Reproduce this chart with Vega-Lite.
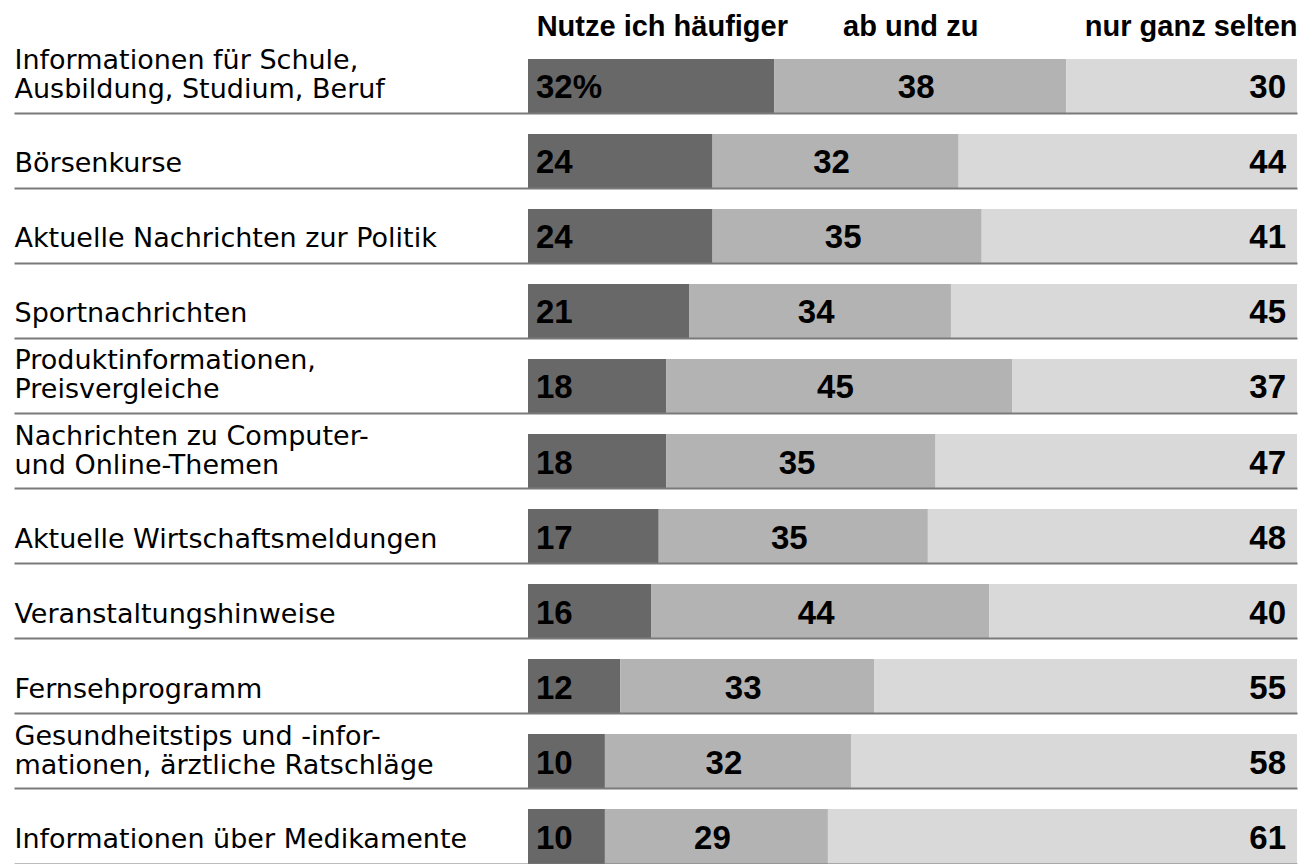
{
  "$schema": "https://vega.github.io/schema/vega-lite/v6.json",
  "width": 769,
  "height": 805,
  "autosize": {"type": "none"},
  "padding": {"left": 528, "top": 59, "right": 10, "bottom": 0},
  "background": "white",
  "config": {"view": {"stroke": null}},
  "data": {
    "values": [
      {"row": 1, "cat": "Informationen für Schule,|Ausbildung, Studium, Beruf", "resp": "Nutze ich häufiger", "k": 1, "value": 32},
      {"row": 1, "cat": "Informationen für Schule,|Ausbildung, Studium, Beruf", "resp": "ab und zu", "k": 2, "value": 38},
      {"row": 1, "cat": "Informationen für Schule,|Ausbildung, Studium, Beruf", "resp": "nur ganz selten", "k": 3, "value": 30},
      {"row": 2, "cat": "Börsenkurse", "resp": "Nutze ich häufiger", "k": 1, "value": 24},
      {"row": 2, "cat": "Börsenkurse", "resp": "ab und zu", "k": 2, "value": 32},
      {"row": 2, "cat": "Börsenkurse", "resp": "nur ganz selten", "k": 3, "value": 44},
      {"row": 3, "cat": "Aktuelle Nachrichten zur Politik", "resp": "Nutze ich häufiger", "k": 1, "value": 24},
      {"row": 3, "cat": "Aktuelle Nachrichten zur Politik", "resp": "ab und zu", "k": 2, "value": 35},
      {"row": 3, "cat": "Aktuelle Nachrichten zur Politik", "resp": "nur ganz selten", "k": 3, "value": 41},
      {"row": 4, "cat": "Sportnachrichten", "resp": "Nutze ich häufiger", "k": 1, "value": 21},
      {"row": 4, "cat": "Sportnachrichten", "resp": "ab und zu", "k": 2, "value": 34},
      {"row": 4, "cat": "Sportnachrichten", "resp": "nur ganz selten", "k": 3, "value": 45},
      {"row": 5, "cat": "Produktinformationen,|Preisvergleiche", "resp": "Nutze ich häufiger", "k": 1, "value": 18},
      {"row": 5, "cat": "Produktinformationen,|Preisvergleiche", "resp": "ab und zu", "k": 2, "value": 45},
      {"row": 5, "cat": "Produktinformationen,|Preisvergleiche", "resp": "nur ganz selten", "k": 3, "value": 37},
      {"row": 6, "cat": "Nachrichten zu Computer-|und Online-Themen", "resp": "Nutze ich häufiger", "k": 1, "value": 18},
      {"row": 6, "cat": "Nachrichten zu Computer-|und Online-Themen", "resp": "ab und zu", "k": 2, "value": 35},
      {"row": 6, "cat": "Nachrichten zu Computer-|und Online-Themen", "resp": "nur ganz selten", "k": 3, "value": 47},
      {"row": 7, "cat": "Aktuelle Wirtschaftsmeldungen", "resp": "Nutze ich häufiger", "k": 1, "value": 17},
      {"row": 7, "cat": "Aktuelle Wirtschaftsmeldungen", "resp": "ab und zu", "k": 2, "value": 35},
      {"row": 7, "cat": "Aktuelle Wirtschaftsmeldungen", "resp": "nur ganz selten", "k": 3, "value": 48},
      {"row": 8, "cat": "Veranstaltungshinweise", "resp": "Nutze ich häufiger", "k": 1, "value": 16},
      {"row": 8, "cat": "Veranstaltungshinweise", "resp": "ab und zu", "k": 2, "value": 44},
      {"row": 8, "cat": "Veranstaltungshinweise", "resp": "nur ganz selten", "k": 3, "value": 40},
      {"row": 9, "cat": "Fernsehprogramm", "resp": "Nutze ich häufiger", "k": 1, "value": 12},
      {"row": 9, "cat": "Fernsehprogramm", "resp": "ab und zu", "k": 2, "value": 33},
      {"row": 9, "cat": "Fernsehprogramm", "resp": "nur ganz selten", "k": 3, "value": 55},
      {"row": 10, "cat": "Gesundheitstips und -infor-|mationen, ärztliche Ratschläge", "resp": "Nutze ich häufiger", "k": 1, "value": 10},
      {"row": 10, "cat": "Gesundheitstips und -infor-|mationen, ärztliche Ratschläge", "resp": "ab und zu", "k": 2, "value": 32},
      {"row": 10, "cat": "Gesundheitstips und -infor-|mationen, ärztliche Ratschläge", "resp": "nur ganz selten", "k": 3, "value": 58},
      {"row": 11, "cat": "Informationen über Medikamente", "resp": "Nutze ich häufiger", "k": 1, "value": 10},
      {"row": 11, "cat": "Informationen über Medikamente", "resp": "ab und zu", "k": 2, "value": 29},
      {"row": 11, "cat": "Informationen über Medikamente", "resp": "nur ganz selten", "k": 3, "value": 61}
    ]
  },
  "transform": [
    {"stack": "value", "groupby": ["cat"], "sort": [{"field": "k", "order": "ascending"}], "as": ["x0", "x1"]},
    {"calculate": "(datum.x0 + datum.x1) / 2", "as": "xm"},
    {"calculate": "datum.row == 1 && datum.k == 1 ? datum.value + '%' : '' + datum.value", "as": "txt"}
  ],
  "encoding": {
    "y": {
      "field": "cat",
      "type": "nominal",
      "sort": {"field": "row", "op": "min", "order": "ascending"},
      "scale": {"paddingInner": 0.2667, "paddingOuter": 0},
      "axis": {
        "title": null,
        "orient": "left",
        "domain": false,
        "bandPosition": 1,
        "ticks": true,
        "tickSize": 514,
        "tickColor": "#7a7a7a",
        "tickWidth": 2,
        "grid": true,
        "gridColor": "#7a7a7a",
        "gridWidth": 2,
        "labelAlign": "left",
        "labelBaseline": "alphabetic",
        "labelPadding": 0,
        "labelOffset": {"condition": {"test": "indexof(datum.label, '|') >= 0", "value": -17}, "value": 11},
        "labelFont": "DejaVu Sans",
        "labelFontSize": 27,
        "labelColor": "#000000",
        "labelLineHeight": 29,
        "labelLimit": 0,
        "labelOverlap": false,
        "labelExpr": "split(datum.label, '|')",
        "zindex": 1
      }
    }
  },
  "layer": [
    {
      "mark": {"type": "bar", "stroke": null},
      "encoding": {
        "x": {
          "field": "x0",
          "type": "quantitative",
          "scale": {"domain": [0, 100], "nice": false},
          "axis": {
            "orient": "top",
            "title": null,
            "domain": false,
            "ticks": false,
            "tickSize": 0,
            "grid": false,
            "values": [17.4, 49.7, 100],
            "labelExpr": "datum.value < 30 ? 'Nutze ich häufiger' : datum.value < 70 ? 'ab und zu' : 'nur ganz selten'",
            "labelAlign": {"condition": {"test": "datum.value == 100", "value": "right"}, "value": "center"},
            "labelBaseline": "alphabetic",
            "labelPadding": 24,
            "labelFont": "Liberation Sans",
            "labelFontWeight": "bold",
            "labelFontSize": 29,
            "labelColor": "#000000",
            "labelOverlap": false,
            "labelFlush": false,
            "labelBound": false,
            "labelLimit": 0
          }
        },
        "x2": {"field": "x1"},
        "color": {
          "field": "resp",
          "type": "nominal",
          "scale": {"domain": ["Nutze ich häufiger", "ab und zu", "nur ganz selten"], "range": ["#686868", "#b3b3b3", "#d9d9d9"]},
          "legend": null
        }
      }
    },
    {
      "transform": [{"filter": "datum.k == 1"}],
      "mark": {"type": "text", "align": "left", "baseline": "middle", "dx": 8, "dy": 2, "font": "Liberation Sans", "fontWeight": "bold", "fontSize": 33, "color": "#000000"},
      "encoding": {"x": {"field": "x0", "type": "quantitative"}, "text": {"field": "txt"}}
    },
    {
      "transform": [{"filter": "datum.k == 2"}],
      "mark": {"type": "text", "align": "center", "baseline": "middle", "dx": -4, "dy": 2, "font": "Liberation Sans", "fontWeight": "bold", "fontSize": 33, "color": "#000000"},
      "encoding": {"x": {"field": "xm", "type": "quantitative"}, "text": {"field": "txt"}}
    },
    {
      "transform": [{"filter": "datum.k == 3"}],
      "mark": {"type": "text", "align": "right", "baseline": "middle", "dx": -11, "dy": 2, "font": "Liberation Sans", "fontWeight": "bold", "fontSize": 33, "color": "#000000"},
      "encoding": {"x": {"field": "x1", "type": "quantitative"}, "text": {"field": "txt"}}
    }
  ]
}
